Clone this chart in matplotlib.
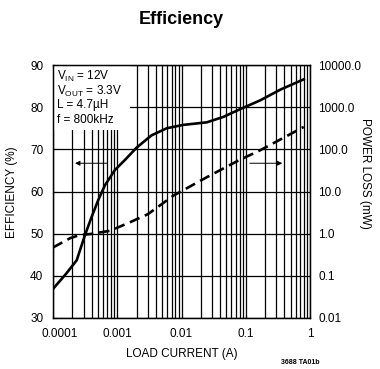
import matplotlib
matplotlib.use('Agg')
from matplotlib import pyplot as plt
from matplotlib import patches as mpatch
from matplotlib import ticker
from matplotlib.transforms import ScaledTranslation

# Courbes
eff_current = [1e-4, 1.6e-4, 2.34e-4, 3.15e-4, 4.0e-4, 5.07e-4, 6.44e-4, 9.2e-4,
               1.32e-3, 2.0e-3, 3.4e-3, 5.9e-3, 0.0107, 0.0247, 0.045, 0.081,
               0.167, 0.35, 0.8]
efficiency = [36.9, 40.5, 43.7, 49.7, 54.0, 58.0, 61.5, 65.1,
              67.5, 70.4, 73.3, 75.0, 75.8, 76.4, 77.7, 79.5,
              81.6, 84.2, 86.6]

loss_current = [1e-4, 1.84e-4, 2.6e-4, 3.8e-4, 7.7e-4, 1.5e-3, 3e-3, 7.5e-3,
                0.025, 0.08, 0.17, 0.8]
power_loss = [0.47, 0.78, 0.93, 0.98, 1.17, 1.8, 2.9, 8.0,
              22.0, 56.0, 96.0, 340.0]

x_ticks = [0.0001, 0.001, 0.01, 0.1, 1]
x_labels = ['0.0001', '0.001', '0.01', '0.1', '1']
eff_ticks = [30, 40, 50, 60, 70, 80, 90]
loss_ticks = [0.01, 0.1, 1, 10, 100, 1000, 10000]
loss_labels = ['0.01', '0.1', '1.0', '10.0', '100.0', '1000.0', '10000.0']

notes = [r'V$_{\mathrm{IN}}$ = 12V', r'V$_{\mathrm{OUT}}$ = 3.3V',
         'L = 4.7\u00b5H', 'f = 800kHz']

FONT = ['Liberation Sans Narrow', 'Liberation Sans', 'DejaVu Sans']
plt.rcParams['font.family'] = FONT
plt.rcParams['mathtext.fontset'] = 'custom'
plt.rcParams['mathtext.rm'] = 'Liberation Sans'
plt.rcParams['mathtext.it'] = 'Liberation Sans'
plt.rcParams['mathtext.bf'] = 'Liberation Sans:bold'

fig = plt.figure(figsize=(3.8, 3.69), dpi=100)
ax = fig.add_axes([53 / 380, 1 - 318 / 369, 257 / 380, 253 / 369])

ax.set_xscale('log')
ax.set_xlim(1e-4, 1)
ax.set_ylim(30, 90)
ax.set_xticks(x_ticks)
ax.set_xticklabels(x_labels)
ax.xaxis.set_minor_locator(ticker.LogLocator(base=10, subs=range(2, 10), numticks=20))
ax.xaxis.set_minor_formatter(ticker.NullFormatter())
ax.set_yticks(eff_ticks)
ax.set_axisbelow(True)
ax.grid(True, which='major', color='black', linewidth=0.9)
ax.grid(True, which='minor', axis='x', color='black', linewidth=0.9)
for sp in ax.spines.values():
    sp.set_linewidth(1.0)

ax.tick_params(which='both', direction='in', top=True, length=0, labelsize=8.5)
ax.tick_params(axis='x', which='both', length=2.5, pad=7)
ax.tick_params(axis='y', which='major', length=3, pad=7)

# "0.0001" décalé à droite comme sur l'original
first = ax.get_xticklabels()[0]
first.set_transform(first.get_transform() + ScaledTranslation(5 / 72, 0, fig.dpi_scale_trans))

# Cadre blanc des conditions de test
box = mpatch.Rectangle((0, 0.745), 0.30, 0.255, transform=ax.transAxes,
                       facecolor='white', edgecolor='none', zorder=1)
ax.add_patch(box)
for i, txt in enumerate(notes):
    ax.text(0.016, 0.985 - i * 0.06, txt, transform=ax.transAxes,
            fontsize=8.5, va='top', ha='left', zorder=3)

ax.plot(eff_current, efficiency, color='black', linewidth=1.9, zorder=4)

ax2 = ax.twinx()
ax2.set_yscale('log')
ax2.set_ylim(0.01, 10000)
ax2.set_yticks(loss_ticks)
ax2.set_yticklabels(loss_labels)
ax2.yaxis.set_minor_locator(ticker.NullLocator())
ax2.tick_params(axis='y', length=0, labelsize=8.5, pad=6)
ax2.plot(loss_current, power_loss, color='black', linewidth=1.9,
         linestyle=(0, (4, 2.2)), zorder=4)

# Flèches d'axe
ax.annotate('', xy=(2.2e-4, 66.7), xytext=(6.9e-4, 66.7),
            arrowprops=dict(arrowstyle='-|>', color='black', lw=0.7,
                            mutation_scale=7, shrinkA=0, shrinkB=0))
ax.annotate('', xy=(0.37, 66.7), xytext=(0.116, 66.7),
            arrowprops=dict(arrowstyle='-|>', color='black', lw=0.7,
                            mutation_scale=7, shrinkA=0, shrinkB=0))

ax.set_xlabel('LOAD CURRENT (A)', fontsize=8.5, labelpad=6)
fig.text(12 / 380, 1 - 192 / 369, 'EFFICIENCY (%)', rotation=90,
         fontsize=8.5, ha='center', va='center')
fig.text(365 / 380, 1 - 173 / 369, 'POWER LOSS (mW)', rotation=-90,
         fontsize=8.5, ha='center', va='center')

fig.text(181 / 380, 1 - 20 / 369, 'Efficiency', fontsize=13, fontweight='bold',
         ha='center', va='center')
fig.text(300 / 380, 1 - 362 / 369, '3688 TA01b', fontsize=5, fontweight='bold',
         ha='center', va='center')

fig.savefig('out.png', dpi=100)
